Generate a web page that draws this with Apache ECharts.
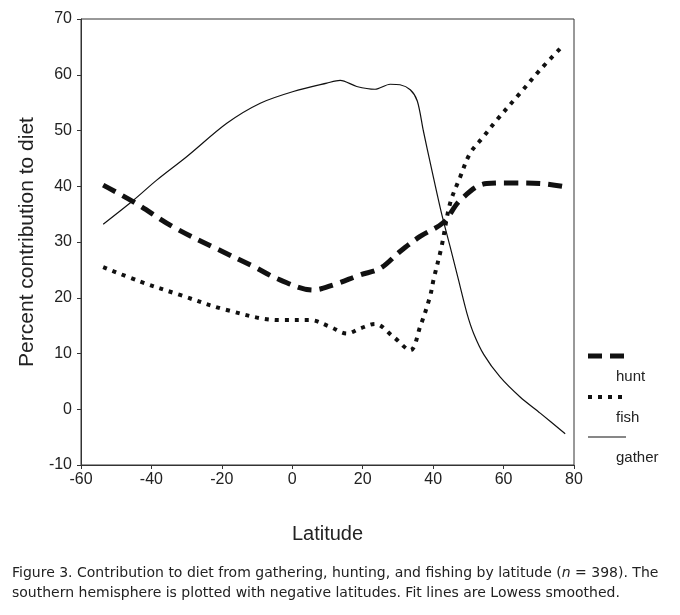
<!DOCTYPE html>
<html><head><meta charset="utf-8">
<script src="https://cdn.jsdelivr.net/npm/echarts@6/dist/echarts.min.js"></script>
<style>html,body{margin:0;padding:0;background:#fff}#c{width:680px;height:615px}</style>
</head><body><div id="c"></div>
<script>
const xTicks = [-60, -40, -20, 0, 20, 40, 60, 80];
const yTicks = [-10, 0, 10, 20, 30, 40, 50, 60, 70];
const gatherLat = [-53.7, -45.1, -38.5, -30, -18.6, -9.1, 0.3, 9.8, 13.6, 18.3, 23.5, 27.8, 30.6, 33.5, 35.5, 37.2, 39.6, 42.4, 44.8, 47.2, 49.6, 51.5, 54.4, 59, 64.7, 70.4, 77.5];
const gatherVal = [33.2, 37.5, 41.1, 45.3, 51.3, 54.9, 57, 58.5, 59.0, 57.9, 57.4, 58.3, 58.2, 57.3, 55.3, 50, 43, 35.1, 29.2, 23.2, 17.2, 13.6, 9.8, 5.8, 2.2, -0.7, -4.4];
const huntLat = [-53.7, -45.1, -33.8, -21.5, -11, -3.5, 6, 11.6, 19.3, 25, 30.6, 36.3, 42.9, 47.7, 55.2, 62.8, 70.4, 77.5];
const huntVal = [40.2, 37.2, 32.7, 28.8, 25.6, 23.2, 21.4, 22.3, 24.1, 25.3, 28.3, 31, 33.5, 37.5, 40.5, 40.6, 40.5, 39.9];
const fishLat = [-53.7, -43.2, -31.9, -18.6, -3.5, 5.1, 10.7, 15.5, 19.3, 23.5, 28.7, 33.5, 36.3, 39.1, 40.1, 42.4, 44.8, 47.7, 50.5, 54.3, 58.1, 64.7, 70.4, 76.1];
const fishVal = [25.5, 22.9, 20.5, 17.8, 16, 16, 14.8, 13.6, 14.5, 15.3, 13, 10.6, 14.8, 20.2, 23.2, 29.2, 36.9, 41.7, 45.9, 48.9, 51.9, 56.7, 60.9, 64.7];
const seriesNames = ['hunt', 'fish', 'gather'];

const pairs = (xs, ys) => xs.map((x, i) => [x, ys[i]]);
const font = "'Liberation Sans', Arial, sans-serif";
const capFont = "'DejaVu Sans', sans-serif";
const chart = echarts.init(document.getElementById('c'), null, {renderer: 'canvas'});

const legendItems = [];
const lx1 = 588, lx2 = 626;
const legendStyles = [
  {y: 356, style: {stroke: '#111', lineWidth: 5, lineDash: [14, 8]}},
  {y: 397, style: {stroke: '#111', lineWidth: 4, lineDash: [4, 6]}},
  {y: 437, style: {stroke: '#111', lineWidth: 1.2}}
];
legendStyles.forEach((s, i) => {
  legendItems.push({type: 'line', shape: {x1: lx1, y1: s.y, x2: lx2, y2: s.y}, style: s.style});
  legendItems.push({type: 'text', left: 616, top: s.y + 13, style: {text: seriesNames[i], font: '15px ' + font, fill: '#222'}});
});

chart.setOption({
  animation: false,
  backgroundColor: '#fff',
  grid: {left: 81, top: 19, right: 106, bottom: 150, show: true, borderColor: '#333', borderWidth: 1, backgroundColor: 'transparent'},
  xAxis: {
    type: 'value', min: -60, max: 80, interval: 20,
    name: 'Latitude', nameLocation: 'middle', nameGap: 59,
    nameTextStyle: {fontFamily: font, fontSize: 20, color: '#222'},
    axisLine: {show: true, onZero: false, lineStyle: {color: '#333', width: 1}},
    axisTick: {show: true, length: 4, lineStyle: {color: '#333'}},
    axisLabel: {fontFamily: font, fontSize: 16, color: '#222', margin: 7},
    splitLine: {show: false}
  },
  yAxis: {
    type: 'value', min: -10, max: 70, interval: 10,
    name: 'Percent contribution to diet', nameLocation: 'middle', nameGap: 42,
    nameTextStyle: {fontFamily: font, fontSize: 21, color: '#222'},
    axisLine: {show: true, onZero: false, lineStyle: {color: '#333', width: 1}},
    axisTick: {show: true, length: 4, lineStyle: {color: '#333'}},
    axisLabel: {fontFamily: font, fontSize: 16, color: '#222', margin: 9},
    splitLine: {show: false}
  },
  series: [
    {name: 'hunt', type: 'line', data: pairs(huntLat, huntVal), smooth: 0.35, showSymbol: false, symbol: 'none',
     lineStyle: {color: '#111', width: 5, type: [14, 8]}},
    {name: 'fish', type: 'line', data: pairs(fishLat, fishVal), smooth: 0.35, showSymbol: false, symbol: 'none',
     lineStyle: {color: '#111', width: 4, type: [4, 6]}},
    {name: 'gather', type: 'line', data: pairs(gatherLat, gatherVal), smooth: 0.3, showSymbol: false, symbol: 'none',
     lineStyle: {color: '#111', width: 1.2}}
  ],
  graphic: legendItems.concat([
    {type: 'text', left: 12, top: 566, style: {
      text: '{a|Figure 3. Contribution to diet from gathering, hunting, and fishing by latitude (}{i|n}{a| = 398). The}',
      rich: {a: {font: '14px ' + capFont, fill: '#222'}, i: {font: 'italic 14px ' + capFont, fill: '#222'}}}},
    {type: 'text', left: 12, top: 586, style: {
      text: 'southern hemisphere is plotted with negative latitudes. Fit lines are Lowess smoothed.',
      font: '14px ' + capFont, fill: '#222'}}
  ])
});
</script></body></html>
